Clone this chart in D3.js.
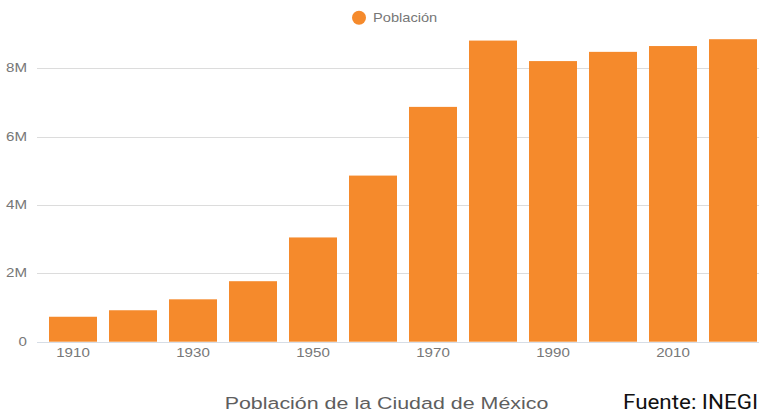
<!DOCTYPE html>
<html>
<head>
<meta charset="utf-8">
<script src="https://cdn.jsdelivr.net/npm/d3@7"></script>
<style>
    body { margin: 0; background: #fff; }
    svg { display: block; font-family: "Liberation Sans", Arial, sans-serif; }
    .tick-label { fill: #777; font-size: 12px; }
</style>
</head>
<body>
<div id="bar-chart"></div>
<script>
// Data
const years = ["1910", "1920", "1930", "1940", "1950", "1960", "1970", "1980", "1990", "2000", "2010", "2020"];
const population = [730000, 920000, 1240000, 1770000, 3050000, 4860000, 6870000, 8810000, 8210000, 8480000, 8650000, 8850000];
const yTicks = [0, 2000000, 4000000, 6000000, 8000000];
const xLabels = ["1910", "1930", "1950", "1970", "1990", "2010"];

const W = 759, H = 417;
const stretch = 1.26; // the source picture is stretched horizontally

const svg = d3.select("#bar-chart")
    .append("svg")
    .attr("width", W)
    .attr("height", H);

const xScale = d3.scaleBand()
    .domain(years)
    .range([37, 769])
    .paddingInner(0.2)
    .paddingOuter(0.2);

const yScale = d3.scaleLinear()
    .domain([0, 9000000])
    .range([341.7, 341.7 - 9 * 34.18]);

// gridlines
svg.selectAll(".grid")
    .data(yTicks)
    .enter().append("line")
    .attr("class", "grid")
    .attr("x1", 37)
    .attr("x2", W)
    .attr("y1", d => Math.round(yScale(d)) + 0.5)
    .attr("y2", d => Math.round(yScale(d)) + 0.5)
    .attr("stroke", d => d === 0 ? "#d6dde6" : "#dcdcdc")
    .attr("stroke-width", 1);

// y labels
svg.selectAll(".y-label")
    .data(yTicks)
    .enter().append("text")
    .attr("class", "tick-label")
    .attr("text-anchor", "end")
    .attr("transform", d => "translate(27," + (yScale(d) + 4) + ") scale(" + stretch + ",1)")
    .text(d => d === 0 ? "0" : d / 1000000 + "M");

// bars
svg.selectAll(".bar")
    .data(years)
    .enter().append("rect")
    .attr("class", "bar")
    .attr("x", d => xScale(d))
    .attr("y", (d, i) => yScale(population[i]))
    .attr("width", xScale.bandwidth())
    .attr("height", (d, i) => yScale(0) - yScale(population[i]))
    .attr("fill", "#f58a2c");

// x labels
svg.selectAll(".x-label")
    .data(xLabels)
    .enter().append("text")
    .attr("class", "tick-label")
    .attr("text-anchor", "middle")
    .attr("transform", d => "translate(" + (xScale(d) + xScale.bandwidth() / 2) + ",357) scale(" + stretch + ",1)")
    .text(d => d);

// legend
svg.append("circle")
    .attr("cx", 359)
    .attr("cy", 17.7)
    .attr("r", 7)
    .attr("fill", "#f58a2c");

svg.append("text")
    .attr("transform", "translate(373,21.5) scale(1.22,1)")
    .attr("fill", "#777")
    .style("font-size", "12px")
    .text("Población");

// title
svg.append("text")
    .attr("text-anchor", "middle")
    .attr("transform", "translate(386.5,409) scale(" + stretch + ",1)")
    .attr("fill", "#5e5e5e")
    .style("font-size", "17px")
    .text("Población de la Ciudad de México");

svg.append("text")
    .attr("transform", "translate(623,409) scale(1.12,1)")
    .attr("fill", "#111")
    .style("font-family", "Roboto, sans-serif")
    .style("font-size", "20px")
    .text("Fuente: INEGI");
</script>
</body>
</html>
